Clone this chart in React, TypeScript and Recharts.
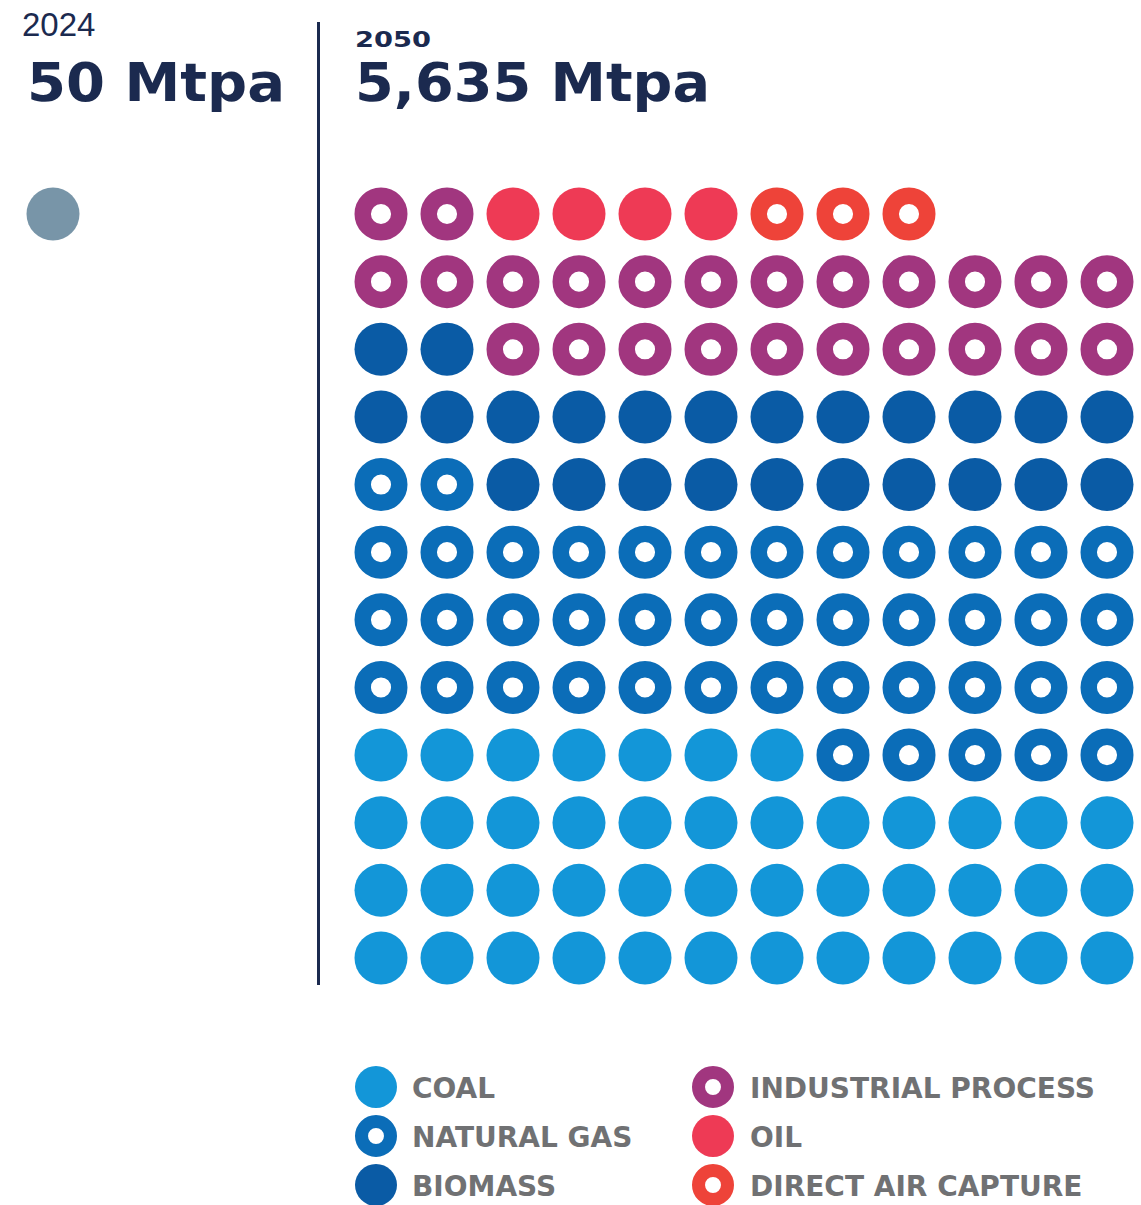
import { ScatterChart, Scatter, XAxis, YAxis } from 'recharts';

// one dot ≈ 40 Mtpa of captured CO2 in 2050
const categories = ['COAL', 'NATURAL GAS', 'BIOMASS', 'INDUSTRIAL PROCESS', 'OIL', 'DIRECT AIR CAPTURE'];
const dotCounts = [43, 43, 24, 24, 4, 3];
const colors = ['#1396d8', '#0b6db8', '#0a5ba5', '#a1367f', '#ee3a55', '#ee4339'];
const ringed = [false, true, false, true, false, true];

const years = ['2024', '2050'];
const yearTotals = ['50 Mtpa', '5,635 Mtpa'];
const dots2024 = [{ col: 0, row: 0 }];

const COLS = 12;
const ROWS = 12;
const NAVY = '#1b2a4f';
const TITLE_FONT = '"DejaVu Sans", sans-serif';

// lay the dots out from the bottom-left, row by row going up
let cursor = 0;
const series = categories.map((name, i) => {
  const points = [];
  for (let k = 0; k < dotCounts[i]; k++) {
    points.push({ col: cursor % COLS, row: ROWS - 1 - Math.floor(cursor / COLS) });
    cursor++;
  }
  return { name, color: colors[i], ring: ringed[i], points };
});

const marker = (cx: number, cy: number, r: number, color: string, ring: boolean) => {
  if (ring) {
    const inner = r * 0.38;
    return <circle cx={cx} cy={cy} r={(r + inner) / 2} fill="none" stroke={color} strokeWidth={r - inner} />;
  }
  return <circle cx={cx} cy={cy} r={r} fill={color} />;
};

const Dot = (r: number, color: string, ring: boolean) => (props: any) => {
  const { cx, cy } = props;
  if (cx == null || cy == null) return <g />;
  return marker(cx, cy, r, color, ring);
};

const LegendBlock = () => (
  <svg width={1141} height={170} style={{ position: 'absolute', left: 0, top: 1040 }}>
    {series.map((s, i) => {
      const dotX = i < 3 ? 376 : 713;
      const textX = i < 3 ? 412 : 750;
      const cy = [47, 96, 145][i % 3];
      return (
        <g key={s.name}>
          {marker(dotX, cy, 21, s.color, s.ring)}
          <text x={textX} y={cy + 11} fontFamily={TITLE_FONT} fontWeight="bold" fontSize={28} fill="#707173">
            {s.name}
          </text>
        </g>
      );
    })}
  </svg>
);

export default function App() {
  return (
    <div style={{ position: 'absolute', left: 0, top: 0, width: 1141, height: 1205, background: '#fff', overflow: 'hidden' }}>
      <div style={{ position: 'absolute', left: 0, top: 0 }}>
        <ScatterChart width={1141} height={1205} margin={{ top: 214, right: 34, bottom: 247, left: 381 }}>
          <XAxis dataKey="col" type="number" domain={[0, COLS - 1]} hide />
          <YAxis dataKey="row" type="number" domain={[0, ROWS - 1]} reversed hide />
          {series.map((s) => (
            <Scatter
              key={s.name}
              name={s.name}
              data={s.points}
              fill={s.color}
              shape={Dot(26.5, s.color, s.ring)}
              isAnimationActive={false}
            />
          ))}
        </ScatterChart>
      </div>

      <div style={{ position: 'absolute', left: 0, top: 0 }}>
        <ScatterChart width={106} height={428} margin={{ top: 0, right: 0, bottom: 0, left: 0 }}>
          <XAxis dataKey="col" type="number" domain={[-1, 1]} hide />
          <YAxis dataKey="row" type="number" domain={[-1, 1]} hide />
          <Scatter data={dots2024} shape={Dot(26.5, '#7895a8', false)} isAnimationActive={false} />
        </ScatterChart>
      </div>

      <LegendBlock />

      <svg width={1141} height={130} style={{ position: 'absolute', left: 0, top: 0, pointerEvents: 'none' }}>
        <text x={22} y={36} fontFamily='"Liberation Sans", sans-serif' fontSize={33} fill={NAVY}>
          {years[0]}
        </text>
        <text x={27} y={101} fontFamily={TITLE_FONT} fontWeight="bold" fontSize={53} fill={NAVY}
          textLength={258} lengthAdjust="spacingAndGlyphs">
          {yearTotals[0]}
        </text>
        <text x={355} y={47} fontFamily={TITLE_FONT} fontWeight="bold" fontSize={21} fill={NAVY}
          textLength={76} lengthAdjust="spacingAndGlyphs">
          {years[1]}
        </text>
        <text x={355} y={101} fontFamily={TITLE_FONT} fontWeight="bold" fontSize={53} fill={NAVY}
          textLength={355} lengthAdjust="spacingAndGlyphs">
          {yearTotals[1]}
        </text>
      </svg>
      <div style={{ position: 'absolute', left: 317, top: 22, width: 3, height: 963, background: NAVY }} />
    </div>
  );
}
